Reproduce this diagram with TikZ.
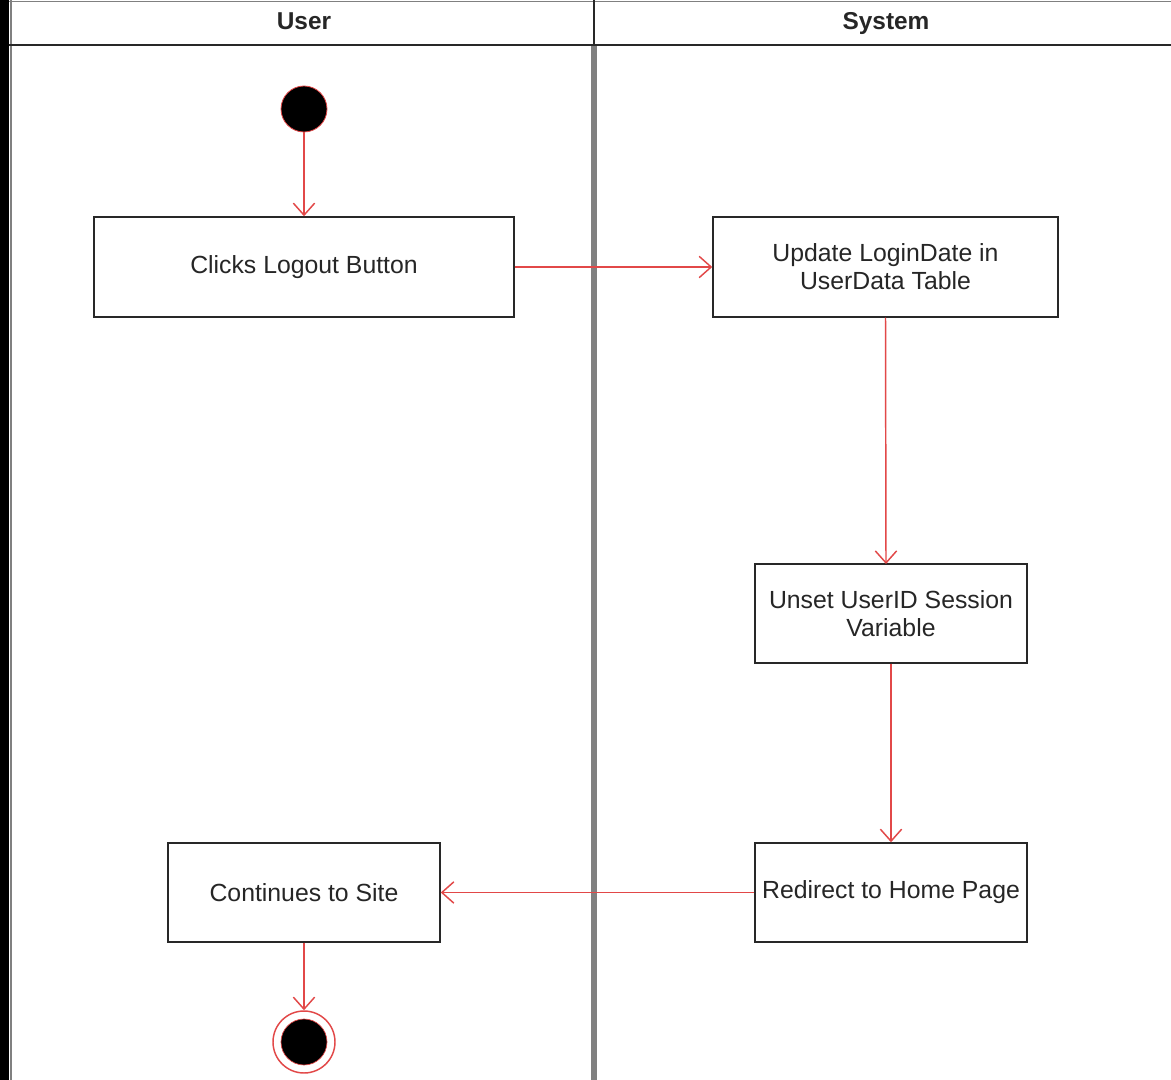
\documentclass[tikz,border=0pt]{standalone}
\usepackage{fontspec}
\setmainfont{Liberation Sans}
\usetikzlibrary{arrows.meta}
\definecolor{flowred}{RGB}{226,72,72}
\definecolor{lanegray}{RGB}{128,128,128}
\definecolor{edgegray}{RGB}{40,40,40}
\begin{document}
\begin{tikzpicture}[x=0.75pt,y=-0.75pt,
  actbox/.style={draw=edgegray,line width=1.1pt,fill=white,inner sep=0pt,
    align=center,font=\fontsize{18.6pt}{21pt}\selectfont,text=black!85},
  flow/.style={draw=flowred,line width=1.1pt,
    -{Straight Barb[length=9pt,width=16pt,line width=1.1pt]}},
  lanetitle/.style={anchor=base,font=\bfseries\fontsize{18.3pt}{20pt}\selectfont,text=black!85}]
  \useasboundingbox (0,0) rectangle (1171,1080);
  \fill[white] (0,0) rectangle (1171,1080);
  % dark strip on the left edge
  \fill[black] (0,0) rectangle (9,1080);
  \draw[lanegray,line width=1.5pt] (11,0) -- (11,1080);
  % header
  \draw[lanegray,line width=1.2pt] (9,1.5) -- (1171,1.5);
  \draw[edgegray,line width=1.5pt] (9,45) -- (1171,45);
  \draw[edgegray,line width=1.5pt] (594,0) -- (594,45);
  \node[lanetitle] (userlane) at (304,30) {User};
  \node[lanetitle] (syslane) at (886,30) {System};
  % lane divider
  \draw[lanegray,line width=3.8pt] (594,46) -- (594,1080);
  % activities
  \node[actbox,minimum width=420*0.75pt,minimum height=100*0.75pt] (click) at (304,267) {Clicks Logout Button};
  \node[actbox,minimum width=345*0.75pt,minimum height=100*0.75pt] (update) at (885.5,267) {Update LoginDate in\\UserData Table};
  \node[actbox,minimum width=272*0.75pt,minimum height=99*0.75pt] (unset) at (891,613.5) {Unset UserID Session\\Variable};
  \node[actbox,minimum width=272*0.75pt,minimum height=99*0.75pt] (redirect) at (891,892.5) {Redirect to Home Page};
  \node[actbox,minimum width=272*0.75pt,minimum height=99*0.75pt] (cont) at (304,892.5) {Continues to Site};
  % initial and final states
  \node[circle,fill=black,draw=flowred,line width=0.6pt,minimum size=46*0.75pt,inner sep=0pt] (start) at (304,109) {};
  \node[circle,draw=flowred,line width=1.1pt,fill=white,minimum size=62*0.75pt,inner sep=0pt] (finish) at (304,1042) {};
  \node[circle,fill=black,draw=flowred,line width=0.5pt,minimum size=46*0.75pt,inner sep=0pt] (finishdot) at (304,1042) {};
  % transitions
  \draw[flow] (start) -- (click);
  \draw[flow] (click.east) -- (update.west);
  \coordinate (unsettop) at (886,564);
  \draw[flow] (update.south) -- (unsettop);
  \draw[flow] (unset) -- (redirect);
  \draw[flow] (redirect.west) -- (cont.east);
  \draw[flow] (cont) -- (finish);
\end{tikzpicture}
\end{document}
